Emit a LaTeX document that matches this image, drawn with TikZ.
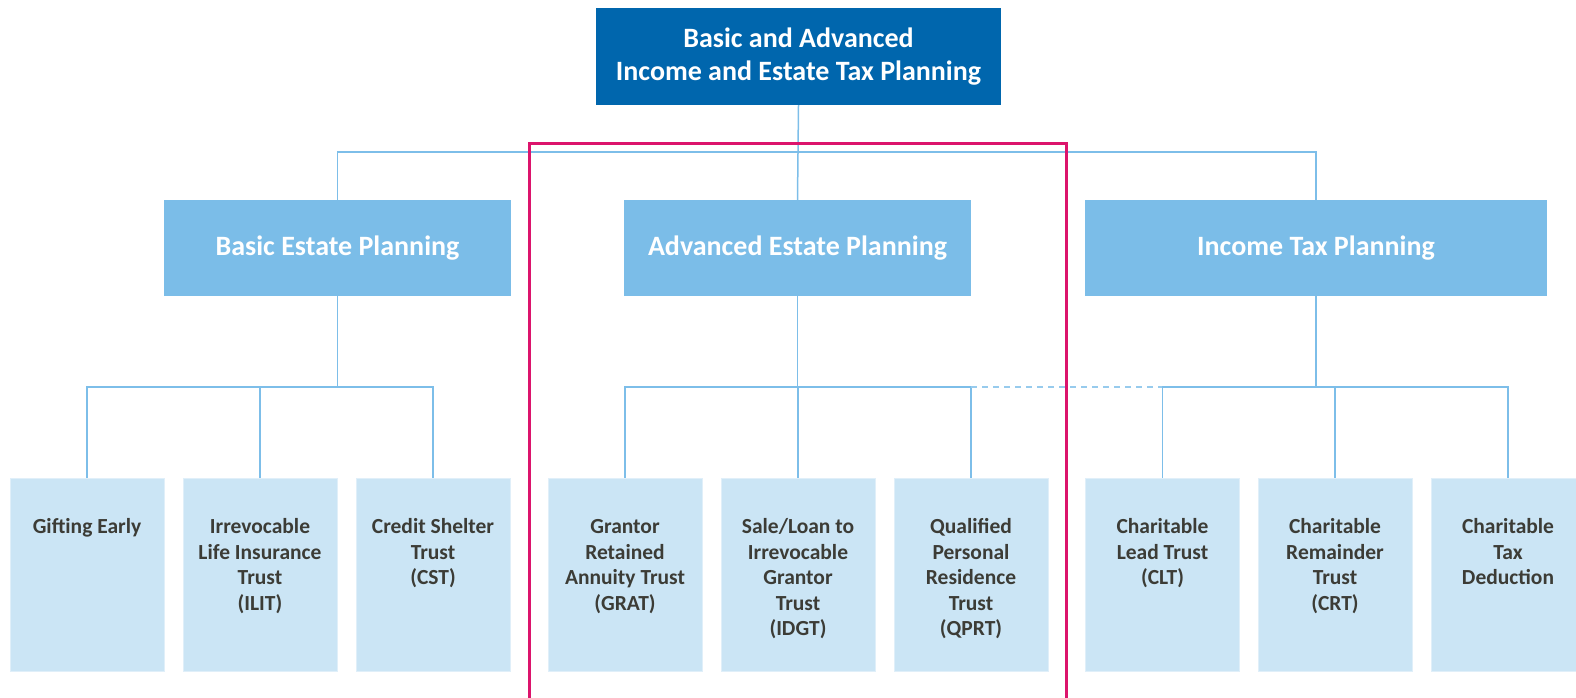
\documentclass[tikz,border=0pt]{standalone}
\usepackage{fontspec}
\setmainfont{Carlito}
\definecolor{topblue}{HTML}{0066AD}
\definecolor{midblue}{HTML}{7BBDE8}
\definecolor{leafblue}{HTML}{CBE5F5}
\definecolor{connblue}{HTML}{7DBEE9}
\definecolor{magenta}{HTML}{DC146C}
\definecolor{leaftxt}{HTML}{3C3C36}
\begin{document}
\begin{tikzpicture}[x=1pt,y=-1pt,
  topbox/.style={rectangle,fill=topblue,minimum width=405pt,minimum height=97pt,inner sep=0pt,
    text=white,font=\bfseries\fontsize{28}{33}\selectfont,align=center},
  midbox/.style={rectangle,fill=midblue,minimum height=96pt,inner sep=0pt,
    text=white,font=\bfseries\fontsize{28}{33}\selectfont},
  leafbox/.style={rectangle,fill=leafblue,draw=leafblue!60!white,line width=0.6pt,minimum width=154pt,minimum height=193pt,inner sep=0pt},
  leaftext/.style={anchor=north,inner sep=0pt,align=center,text=leaftxt,font=\bfseries\fontsize{21.5}{25.5}\selectfont},
  conn/.style={draw=connblue,line width=1.5pt},
  dconn/.style={draw=connblue!80!white,line width=1.5pt,dash pattern=on 6pt off 5pt},
  frame/.style={draw=magenta,line width=3pt}]
\useasboundingbox (0,0) rectangle (1576,698);

% top and middle level
\node[topbox] (top) at (798.5,56.5) {Basic and Advanced\\Income and Estate Tax Planning};
\node[midbox,minimum width=347pt] (basic) at (337.5,248) {Basic Estate Planning};
\node[midbox,minimum width=347pt] (adv) at (797.5,248) {Advanced Estate Planning};
\node[midbox,minimum width=462pt] (inc) at (1316,248) {Income Tax Planning};

% leaves
\node[leafbox] (gift) at (87,574.5) {};
\node[leafbox] (ilit) at (260,574.5) {};
\node[leafbox] (cst) at (433,574.5) {};
\node[leafbox] (grat) at (625,574.5) {};
\node[leafbox] (idgt) at (798,574.5) {};
\node[leafbox] (qprt) at (971,574.5) {};
\node[leafbox] (clt) at (1162.5,574.5) {};
\node[leafbox] (crt) at (1335,574.5) {};
\node[leafbox] (ctd) at (1508,574.5) {};

\node[leaftext] (giftT) at ([yshift=-38pt]gift.north) {\strut Gifting Early};
\node[leaftext] (ilitT) at ([yshift=-38pt]ilit.north) {\strut Irrevocable\\Life Insurance\\Trust\\(ILIT)};
\node[leaftext] (cstT) at ([yshift=-38pt]cst.north) {\strut Credit Shelter\\Trust\\(CST)};
\node[leaftext] (gratT) at ([yshift=-38pt]grat.north) {\strut Grantor\\Retained\\Annuity Trust\\(GRAT)};
\node[leaftext] (idgtT) at ([yshift=-38pt]idgt.north) {\strut Sale/Loan to\\Irrevocable\\Grantor\\Trust\\(IDGT)};
\node[leaftext] (qprtT) at ([yshift=-38pt]qprt.north) {\strut Qualified\\Personal\\Residence\\Trust\\(QPRT)};
\node[leaftext] (cltT) at ([yshift=-38pt]clt.north) {\strut Charitable\\Lead Trust\\(CLT)};
\node[leaftext] (crtT) at ([yshift=-38pt]crt.north) {\strut Charitable\\Remainder\\Trust\\(CRT)};
\node[leaftext] (ctdT) at ([yshift=-38pt]ctd.north) {\strut Charitable\\Tax\\Deduction};

% junctions
\coordinate (j1) at (797.5,152);
\coordinate (jb) at (337.5,387);
\coordinate (ja) at (797.5,387);
\coordinate (ji) at (1316,387);

% connectors level 1
\draw[conn] (top.south) -- (adv.north);
\draw[conn] (basic.north) |- (j1) -| (inc.north);

% basic
\draw[conn] (basic.south) -- (jb);
\draw[conn] (gift.north) -- (gift.north |- jb) -- (cst.north |- jb) -- (cst.north);
\draw[conn] (ilit.north) -- (ilit.north |- jb);

% advanced
\draw[conn] (adv.south) -- (ja);
\draw[conn] (grat.north) -- (grat.north |- ja) -- (qprt.north |- ja) -- (qprt.north);
\draw[conn] (idgt.north) -- (idgt.north |- ja);
\draw[dconn] (qprt.north |- ja) -- (clt.north |- ja);

% income
\draw[conn] (inc.south) -- (ji);
\draw[conn] (clt.north) -- (clt.north |- ji) -- (ctd.north |- ji) -- (ctd.north);
\draw[conn] (crt.north) -- (crt.north |- ji);

% highlight frame
\coordinate (fbl) at (529.5,702);
\coordinate (fbr) at (1066,702);
\draw[frame] (fbl) -- (529.5,143) -- (1066,143) -- (fbr);
\end{tikzpicture}
\end{document}
